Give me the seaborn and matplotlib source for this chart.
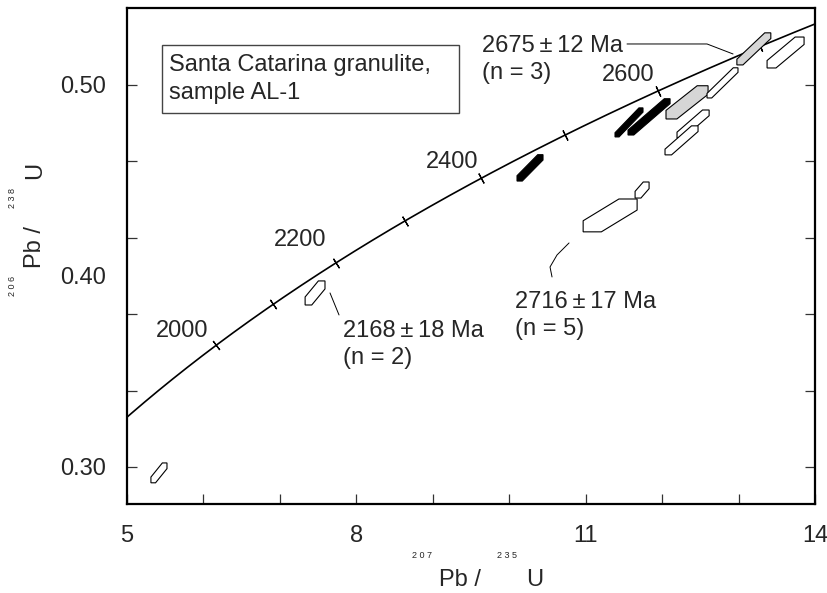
import numpy as np
import pandas as pd
import seaborn as sns
import matplotlib.pyplot as plt
from matplotlib.patches import Polygon, Rectangle

# decay constants (per Ma)
L235 = 9.8485e-4
L238 = 1.55125e-4

TICK_AGES = [2000, 2100, 2200, 2300, 2400, 2500, 2600, 2700]
LABEL_AGES = [2000, 2200, 2400, 2600]

# zircon analyses: centre ratios, half ranges and half height of the correlated band
PB207_U235 = [5.418, 7.46, 10.272, 11.567, 11.829, 12.326, 13.20, 12.79, 13.615, 12.405, 12.254, 11.738, 11.32]
PB206_U238 = [0.2969, 0.3911, 0.4566, 0.4804, 0.4833, 0.4909, 0.5189, 0.5011, 0.5170, 0.4796, 0.4710, 0.4450, 0.4317]
ERR_X = [0.105, 0.13, 0.17, 0.183, 0.275, 0.275, 0.222, 0.2025, 0.242, 0.21, 0.216, 0.0915, 0.353]
ERR_Y = [0.0052, 0.0063, 0.0069, 0.0076, 0.0095, 0.0087, 0.0084, 0.0079, 0.0081, 0.0073, 0.0076, 0.0042, 0.0086]
BAND = [0.0030, 0.0042, 0.0028, 0.0022, 0.0026, 0.0045, 0.0030, 0.0024, 0.0039, 0.0030, 0.0030, 0.0035, 0.0058]
GROUP = ['open', 'open', 'black', 'black', 'black', 'grey', 'grey', 'open', 'open', 'open', 'open', 'open', 'open']

FILLS = {'open': 'white', 'black': 'black', 'grey': '#d6d6d6'}

AGE_NOTES = [('2675\u2009±\u200912 Ma', '(n = 3)'),
             ('2168\u2009±\u200918 Ma', '(n = 2)'),
             ('2716\u2009±\u200917 Ma', '(n = 5)')]


def concordia(t):
    return np.exp(L235 * t) - 1, np.exp(L238 * t) - 1


def error_shape(x0, y0, sx, sy, h):
    # box x0 +- sx, y0 +- sy cut by a band of half height h along its diagonal
    m = sy / sx
    return [(x0 - sx, y0 - sy), (x0 - sx, y0 - sy + h), (x0 + sx - h / m, y0 + sy),
            (x0 + sx, y0 + sy), (x0 + sx, y0 + sy - h), (x0 - sx + h / m, y0 - sy)]


def px(x, y):
    # picture pixel -> data, used for annotation placement only
    return 5 + (x - 127) / 76.44, 0.30 + (467 - y) / 1910


def main():
    sns.set_theme(style='ticks')
    plt.rcParams['font.family'] = ['Liberation Sans', 'DejaVu Sans']

    fig = plt.figure(figsize=(8.28, 5.93), dpi=100)
    ax = fig.add_axes([0.15338, 0.15008, 0.83092, 0.83642])
    ax.set_xlim(5, 14)
    ax.set_ylim(0.2806, 0.5403)

    t = np.linspace(1800, 2760, 400)
    cx, cy = concordia(t)
    curve = pd.DataFrame({'x': cx, 'y': cy})
    sns.lineplot(data=curve, x='x', y='y', color='black', lw=1.2, ax=ax, sort=False, zorder=1)

    # age ticks on concordia, perpendicular in screen space
    fig.canvas.draw()
    for age in TICK_AGES:
        p0 = ax.transData.transform(concordia(age - 1))
        p1 = ax.transData.transform(concordia(age + 1))
        ang = np.degrees(np.arctan2(p1[1] - p0[1], p1[0] - p0[0]))
        tx, ty = concordia(age)
        ax.plot([tx], [ty], marker=(2, 2, ang), ms=8, mew=0.9, color='black', zorder=1)

    offsets = {2000: (-34, 14), 2200: (-36, 23), 2400: (-29, 16), 2600: (-30, 16)}
    for age in LABEL_AGES:
        ax.annotate(str(age), concordia(age), xytext=offsets[age], textcoords='offset pixels',
                    ha='center', va='center', fontsize=17)

    for i in range(len(PB207_U235)):
        verts = error_shape(PB207_U235[i], PB206_U238[i], ERR_X[i], ERR_Y[i], BAND[i])
        ax.add_patch(Polygon(verts, closed=True, facecolor=FILLS[GROUP[i]],
                             edgecolor='black', lw=0.8, zorder=2))

    # leaders and age annotations
    leaders = [[px(627, 44), px(707, 44), px(733, 54)],
               [px(330, 293), px(339, 315)],
               [px(569, 243), px(557, 255), px(550, 267), px(552, 277)]]
    for lead in leaders:
        ax.plot(*zip(*lead), color='black', lw=0.7)

    note_pos = [(482, 46), (343, 331), (515, 302)]
    for (line1, line2), (nx, ny) in zip(AGE_NOTES, note_pos):
        ax.text(*px(nx, ny), line1, fontsize=17, va='center', ha='left')
        ax.text(*px(nx, ny + 27), line2, fontsize=17, va='center', ha='left')

    ax.add_patch(Rectangle((0.0509, 0.7883), 0.4317, 0.1371, transform=ax.transAxes,
                           facecolor='white', edgecolor='#444444', lw=1.0, zorder=3))
    ax.text(0.061, 0.885, 'Santa Catarina granulite,', transform=ax.transAxes,
            fontsize=17, va='center', ha='left', zorder=4)
    ax.text(0.061, 0.829, 'sample AL-1', transform=ax.transAxes,
            fontsize=17, va='center', ha='left', zorder=4)

    ax.set_xticks([5, 8, 11, 14])
    ax.set_xticklabels(['5', '8', '11', '14'])
    ax.set_xticks([6, 7, 9, 10, 12, 13], minor=True)
    ax.set_yticks([0.30, 0.40, 0.50])
    ax.set_yticklabels(['0.30', '0.40', '0.50'])
    ax.set_yticks([0.30, 0.34, 0.38, 0.42, 0.46, 0.50], minor=True)
    ax.yaxis.remove_overlapping_locs = False
    ax.tick_params(axis='x', which='both', direction='in', length=7, width=0.9,
                   labelsize=17, pad=15, color='#333333')
    ax.tick_params(axis='y', which='major', length=0, labelsize=17, pad=15)
    ax.tick_params(axis='y', which='minor', direction='in', length=7, width=0.9,
                   right=True, color='#333333')
    ax.set_xlabel('')
    ax.set_ylabel('')
    for s in ax.spines.values():
        s.set_linewidth(1.6)
        s.set_color('black')

    # split axis titles with raised spaced mass numbers
    fig.text(422 / 828, 1 - 556 / 593, '2 0 7', fontsize=6.5, ha='center', va='center')
    fig.text(460 / 828, 1 - 580 / 593, 'Pb /', fontsize=17, ha='center', va='center')
    fig.text(507 / 828, 1 - 556 / 593, '2 3 5', fontsize=6.5, ha='center', va='center')
    fig.text(535 / 828, 1 - 580 / 593, 'U', fontsize=17, ha='center', va='center')
    fig.text(13 / 828, 1 - 286 / 593, '2 0 6', fontsize=6.5, ha='center', va='center', rotation=90)
    fig.text(35 / 828, 1 - 247 / 593, 'Pb /', fontsize=17, ha='center', va='center', rotation=90)
    fig.text(13 / 828, 1 - 198 / 593, '2 3 8', fontsize=6.5, ha='center', va='center', rotation=90)
    fig.text(35 / 828, 1 - 170 / 593, 'U', fontsize=17, ha='center', va='center', rotation=90)

    fig.savefig('out.png', dpi=100)


if __name__ == '__main__':
    main()
